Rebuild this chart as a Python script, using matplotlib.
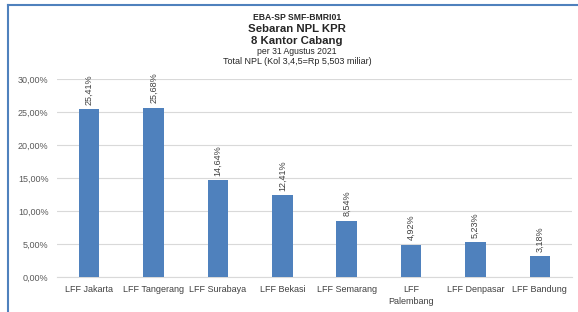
import matplotlib
matplotlib.use("Agg")
import matplotlib.pyplot as plt
from matplotlib.lines import Line2D
from matplotlib.ticker import FuncFormatter

categories = ["LFF Jakarta", "LFF Tangerang", "LFF Surabaya", "LFF Bekasi",
              "LFF Semarang", "LFF\nPalembang", "LFF Denpasar", "LFF Bandung"]
values = [25.41, 25.68, 14.64, 12.41, 8.54, 4.92, 5.23, 3.18]
yticks = [0, 5, 10, 15, 20, 25, 30]
title_lines = ["EBA-SP SMF-BMRI01", "Sebaran NPL KPR", "8 Kantor Cabang",
               "per 31 Agustus 2021", "Total NPL (Kol 3,4,5=Rp 5,503 miliar)"]

W, H = 578, 312
fig = plt.figure(figsize=(W/100, H/100), dpi=100)
fig.patch.set_facecolor("white")
plt.rcParams["font.family"] = ["Liberation Sans", "DejaVu Sans"]

def fx(px): return px / W
def fy(py): return 1 - py / H

ax = fig.add_axes([fx(57), fy(277), fx(572) - fx(57), fy(79) - fy(277)])
x = list(range(len(categories)))
ax.bar(x, values, width=0.32, color="#4F81BD", zorder=3)
ax.set_xlim(-0.5, len(categories) - 0.5)
ax.set_ylim(0, 30)
ax.set_yticks(yticks)
ax.yaxis.set_major_formatter(FuncFormatter(lambda v, p: f"{v:.2f}%".replace(".", ",")))
ax.grid(axis="y", color="#D9D9D9", linewidth=0.8, zorder=0)
for s in ["top", "right", "left"]:
    ax.spines[s].set_visible(False)
ax.spines["bottom"].set_color("#D9D9D9")
ax.spines["bottom"].set_linewidth(0.8)
ax.tick_params(axis="both", length=0, labelsize=6.5, colors="#595959", pad=6)
ax.set_xticks(x)
ax.set_xticklabels(categories, fontsize=6.5, color="#404040", linespacing=1.4)
for lbl in ax.get_yticklabels():
    lbl.set_color("#595959")

for xi, v in zip(x, values):
    ax.annotate(f"{v:.2f}%".replace(".", ","), (xi, v), xytext=(0, 3),
                textcoords="offset points", rotation=90, ha="center", va="bottom",
                fontsize=6.5, color="#404040")

cx = fx(297)
specs = [(17, 6.2, "bold"), (29, 8.2, "bold"), (41, 8.2, "bold"), (52, 6.2, "normal"), (62, 6.5, "normal")]
for line, (py, fs, fw) in zip(title_lines, specs):
    fig.text(cx, fy(py), line, ha="center", va="center", fontsize=fs, fontweight=fw,
             color="#262626")

# border lines
fig.add_artist(Line2D([fx(8), fx(578)], [fy(5), fy(5)], color="#4F81BD", linewidth=1.5))
fig.add_artist(Line2D([fx(8), fx(8)], [fy(5), fy(312)], color="#4F81BD", linewidth=1.5))

fig.savefig("out.png", dpi=100)
